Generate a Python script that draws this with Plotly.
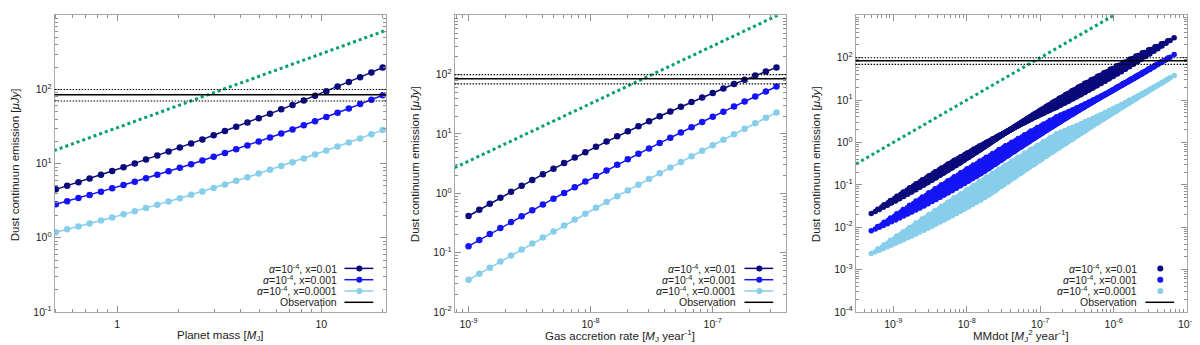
import numpy as np
import plotly.graph_objects as go
from plotly.subplots import make_subplots

# grids
mass = [0.500, 0.568, 0.645, 0.732, 0.832, 0.944, 1.073, 1.218, 1.383, 1.571,
        1.784, 2.026, 2.301, 2.613, 2.968, 3.371, 3.827, 4.346, 4.935, 5.605,
        6.365, 7.228, 8.209, 9.322, 10.59, 12.02, 13.65, 15.50, 17.61, 20.00]
mdot = [1.000e-9, 1.225e-9, 1.493e-9, 1.824e-9, 2.228e-9, 2.723e-9, 3.327e-9,
        4.064e-9, 4.966e-9, 6.067e-9, 7.413e-9, 9.057e-9, 1.107e-8, 1.352e-8,
        1.652e-8, 2.018e-8, 2.466e-8, 3.013e-8, 3.681e-8, 4.498e-8, 5.495e-8,
        6.714e-8, 8.204e-8, 1.002e-7, 1.225e-7, 1.496e-7, 1.828e-7, 2.234e-7,
        2.729e-7, 3.334e-7]

# panel 1: emission vs planet mass
fm_01 = [4.50, 5.03, 5.63, 6.30, 7.07, 7.95, 8.95, 10.08, 11.37, 12.85,
         14.54, 16.48, 18.70, 21.24, 24.17, 27.54, 31.42, 35.92, 41.07, 47.05,
         53.98, 62.00, 71.33, 82.17, 94.78, 109.5, 126.6, 146.7, 170.2, 197.7]
fm_001 = [2.84, 3.12, 3.44, 3.79, 4.19, 4.64, 5.14, 5.71, 6.34, 7.06,
          7.88, 8.80, 9.84, 11.02, 12.37, 13.90, 15.64, 17.63, 19.91, 22.51,
          25.50, 28.92, 32.85, 37.37, 42.59, 48.60, 55.53, 63.58, 72.90, 83.70]
fm_0001 = [1.19, 1.30, 1.42, 1.56, 1.71, 1.88, 2.07, 2.28, 2.52, 2.79,
           3.08, 3.42, 3.80, 4.22, 4.70, 5.25, 5.86, 6.56, 7.35, 8.25,
           9.27, 10.43, 11.76, 13.27, 15.01, 16.99, 19.27, 21.88, 24.89, 28.35]

# panel 2: emission vs gas accretion rate
fa_01 = [0.414, 0.526, 0.667, 0.843, 1.063, 1.335, 1.672, 2.088, 2.601, 3.228,
         3.999, 4.937, 6.077, 7.458, 9.130, 11.14, 13.55, 16.44, 19.89, 23.99,
         28.84, 34.55, 41.30, 49.22, 58.49, 69.32, 81.87, 96.41, 113.2, 132.6]
fa_001 = [0.1285, 0.1627, 0.2056, 0.2594, 0.3268, 0.4111, 0.5164, 0.6476, 0.8104, 1.013,
          1.264, 1.575, 1.960, 2.434, 3.019, 3.738, 4.622, 5.704, 7.031, 8.650,
          10.63, 13.03, 15.96, 19.52, 23.82, 29.04, 35.34, 42.96, 52.10, 63.10]
fa_0001 = [0.0347, 0.0440, 0.0558, 0.0708, 0.0896, 0.1132, 0.1431, 0.1805, 0.2276, 0.2867,
           0.3604, 0.4530, 0.5686, 0.7130, 0.8933, 1.118, 1.397, 1.745, 2.176, 2.713,
           3.376, 4.198, 5.215, 6.471, 8.023, 9.936, 12.29, 15.19, 18.76, 23.14]

# panel 3: emission at the lowest M*Mdot point of each series
mm_lo = [0.021, 0.0082, 0.0024]

obs, obs_hi, obs_lo = 85, 100, 70

# green dotted reference lines (end points)
ref_m = ([0.49, 20.8], [15.0, 630])
ref_a = ([7.7e-10, 3.4e-7], [2.7, 1000])
ref_mm = ([3.1e-10, 1e-6], [0.31, 1000])

names = ["<i>α</i>=10<sup>-4</sup>, x=0.01", "<i>α</i>=10<sup>-4</sup>, x=0.001",
         "<i>α</i>=10<sup>-4</sup>, x=0.0001"]
colors = ["#0a0a7c", "#1414f5", "#87ceeb"]
green = "#009e73"
FONT = "Liberation Sans, Arial, sans-serif"
W, H = 1200, 345

fig = make_subplots(rows=1, cols=3)

fm = [fm_01, fm_001, fm_0001]
fa = [fa_01, fa_001, fa_0001]
for k in range(3):
    fig.add_trace(go.Scatter(x=mass, y=fm[k], mode="lines+markers",
                             line=dict(color=colors[k], width=1.5),
                             marker=dict(size=6.5, color=colors[k])), row=1, col=1)
    fig.add_trace(go.Scatter(x=mdot, y=fa[k], mode="lines+markers",
                             line=dict(color=colors[k], width=1.5),
                             marker=dict(size=6.5, color=colors[k])), row=1, col=2)

# MMdot grid: every mass combined with every accretion rate
for k in range(3):
    x3 = np.outer(mass, mdot).ravel()
    y3 = (mm_lo[k] * np.outer(np.array(fm[k]) / fm[k][0],
                              np.array(fa[k]) / fa[k][0])).ravel()
    fig.add_trace(go.Scatter(x=x3, y=y3, mode="markers",
                             marker=dict(size=5.5, color=colors[k])), row=1, col=3)

for c, (rx, ry) in enumerate([ref_m, ref_a, ref_mm], start=1):
    fig.add_trace(go.Scatter(x=rx, y=ry, mode="lines",
                             line=dict(color=green, width=3, dash="dot")), row=1, col=c)
    fig.add_hline(y=obs, line=dict(color="black", width=1.5), row=1, col=c)
    fig.add_hline(y=obs_hi, line=dict(color="black", width=1.2, dash="1.5px,1.5px"), row=1, col=c)
    fig.add_hline(y=obs_lo, line=dict(color="black", width=1.2, dash="1.5px,1.5px"), row=1, col=c)


def sup(e):
    return "10<sup>%d</sup>" % e


def minors(lo, hi):
    return [m * 10.0 ** e for e in range(lo, hi) for m in range(2, 10)]


# panel boxes in pixels: (left, right)
boxes = [(47, 381), (450, 784), (854, 1188)]
top, bottom = 7.5, 309.3

xr = [[-0.307, 1.318], [-9.114, -6.398], [-9.514, -5.0]]
yr = [[-1, 3], [-2, 3], [-4, 3]]
xt = [([1, 10], ["1", "10"]),
      ([1e-9, 1e-8, 1e-7], [sup(-9), sup(-8), sup(-7)]),
      ([10.0 ** e for e in range(-9, -4)], [sup(e) for e in range(-9, -4)])]
xminor = [minors(-1, 2), minors(-10, -6), minors(-10, -5)]

axis_style = dict(type="log", showgrid=False, zeroline=False, showline=True,
                  linecolor="#a8a8a8", linewidth=1, mirror="ticks",
                  ticks="inside", ticklen=6, tickcolor="#909090", tickwidth=1,
                  tickfont=dict(family=FONT, size=10.5, color="#222"))

for i in range(3):
    l, r = boxes[i]
    xa = "xaxis" if i == 0 else "xaxis%d" % (i + 1)
    ya = "yaxis" if i == 0 else "yaxis%d" % (i + 1)
    fig.layout[xa].update(axis_style, domain=[l / W, r / W], range=xr[i],
                          tickvals=xt[i][0], ticktext=xt[i][1], ticklabelstandoff=2,
                          minor=dict(tickvals=xminor[i], ticks="inside", ticklen=3,
                                     tickcolor="#909090"))
    ylo, yhi = yr[i]
    fig.layout[ya].update(axis_style, domain=[1 - bottom / H, 1 - top / H], range=yr[i],
                          tickvals=[10.0 ** e for e in range(ylo, yhi + 1)],
                          ticktext=[sup(e) for e in range(ylo, yhi + 1)],
                          minor=dict(tickvals=minors(ylo, yhi), ticks="inside", ticklen=3,
                                     tickcolor="#909090"))

xtitles = ["Planet mass [<i>M</i><sub>J</sub>]",
           "Gas accretion rate [<i>M</i><sub>J</sub> year<sup>-1</sup>]",
           "MMdot [<i>M</i><sub>J</sub><sup>2</sup> year<sup>-1</sup>]"]
ytitles = ["Dust continuun emission [<i>μJy</i>]",
           "Dust continuum emission [<i>μJy</i>]",
           "Dust continuum emission [<i>μJy</i>]"]

ann = []
shapes = []
rows_y = [265, 276.5, 288, 299.5]
for i in range(3):
    l, r = boxes[i]
    ann.append(dict(x=(l + r) / 2 / W, y=1 - 334 / H, xref="paper", yref="paper",
                    text=xtitles[i], showarrow=False, xanchor="center", yanchor="middle",
                    font=dict(family=FONT, size=11.5, color="#222")))
    ann.append(dict(x=(l - 40) / W, y=1 - 159 / H, xref="paper", yref="paper",
                    text=ytitles[i], showarrow=False, textangle=-90,
                    xanchor="center", yanchor="middle",
                    font=dict(family=FONT, size=11.5, color="#222")))
    labels = names + ["Observation"]
    for j, lab in enumerate(labels):
        yy = 1 - rows_y[j] / H
        ann.append(dict(x=(r - 48) / W, y=yy, xref="paper", yref="paper", text=lab,
                        showarrow=False, xanchor="right", yanchor="middle",
                        font=dict(family=FONT, size=10.5, color="#222")))
        col = colors[j] if j < 3 else "black"
        if i < 2 or j == 3:
            shapes.append(dict(type="line", xref="paper", yref="paper",
                               x0=(r - 42) / W, x1=(r - 13) / W, y0=yy, y1=yy,
                               line=dict(color=col, width=1.5)))
        if j < 3:
            shapes.append(dict(type="circle", xref="paper", yref="paper",
                               xsizemode="pixel", ysizemode="pixel",
                               xanchor=(r - 27) / W, yanchor=yy,
                               x0=-3, x1=3, y0=-3, y1=3,
                               fillcolor=col, line=dict(color=col, width=0)))

fig.update_layout(width=W, height=H, margin=dict(l=0, r=0, t=0, b=0),
                  plot_bgcolor="white", paper_bgcolor="white", showlegend=False,
                  annotations=ann, shapes=list(fig.layout.shapes) + shapes)

fig.write_html("out.html")
